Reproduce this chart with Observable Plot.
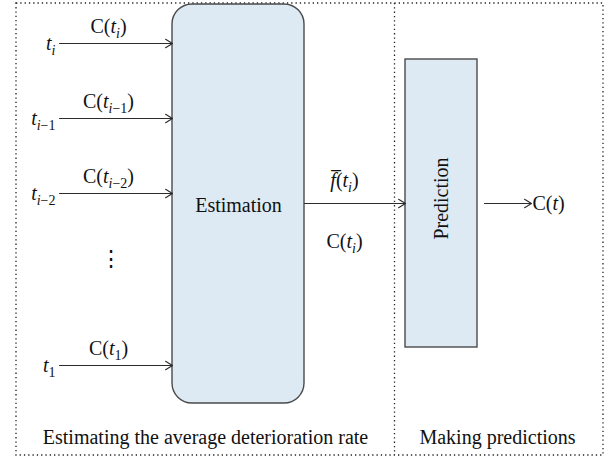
<!DOCTYPE html>
<html>
<head>
<meta charset="utf-8">
<script src="https://cdn.jsdelivr.net/npm/d3@7"></script>
<script src="https://cdn.jsdelivr.net/npm/@observablehq/plot@0.6"></script>
<style>
  html, body { margin: 0; padding: 0; background: #fff; }
  #chart svg { display: block; }
  #chart svg text { font-family: "Liberation Serif", serif; }
</style>
</head>
<body>
<div id="chart"></div>
<script>
// ---- content of the diagram ----
const inputTimes  = ["t[i]", "t[i\u22121]", "t[i\u22122]", "t[1]"];
const inputValues = ["C(t[i])", "C(t[i\u22121])", "C(t[i\u22122])", "C(t[1])"];
const estimationLabel = "Estimation";
const predictionLabel = "Prediction";
const flowLabels = ["f\u0305(t[i])", "C(t[i])"];
const outputLabel = "C(t)";
const stageLabels = ["Estimating the average deterioration rate", "Making predictions"];
const ellipsis = "\u22EE";

// ---- layout of the diagram (pixel space) ----
const W = 607, H = 460;
const frame = {x1: 16, x2: 603, y1: 3, y2: 455};
const dividerX = 394;
const estBox = {x1: 172, x2: 304, y1: 4, y2: 403};
const predBox = {x1: 405, x2: 477, y1: 59, y2: 347};
const lanes = [43, 118, 193, 365];
const inputStartX = 59, timeLabelX = 55, valueLabelX = 108;
const flowY = 203;
const outArrow = {x1: 484, x2: 531};
const stageCenters = [205, 497];
const stageY = 437;

const inputs = inputTimes.map((t, i) => ({t, c: inputValues[i], y: lanes[i]}));
const serif = "Liberation Serif";
const FS = 20;
const boxFill = "#deeaf3", boxStroke = "#4a4a4a", ink = "#2b2b2b";
const dotted = {stroke: "#222", strokeWidth: 1.3, strokeDasharray: "1.3,3"};
const txt = {fontSize: FS, fontFamily: serif, fill: "#111"};
const arr = {stroke: ink, strokeWidth: 1.1, headLength: 11, headAngle: 62};

const svg = Plot.plot({
  width: W, height: H,
  margin: 0,
  x: {domain: [0, W], range: [0, W], axis: null},
  y: {domain: [0, H], range: [0, H], axis: null},
  style: {background: "#fff"},
  marks: [
    // dotted frame + divider
    Plot.rect([frame], {x1: "x1", x2: "x2", y1: "y1", y2: "y2", fill: "none", ...dotted}),
    Plot.ruleX([dividerX], {y1: frame.y1, y2: frame.y2, ...dotted}),
    // boxes
    Plot.rect([estBox], {x1: "x1", x2: "x2", y1: "y1", y2: "y2", rx: 20, fill: boxFill, stroke: boxStroke, strokeWidth: 1.4}),
    Plot.rect([predBox], {x1: "x1", x2: "x2", y1: "y1", y2: "y2", fill: boxFill, stroke: boxStroke, strokeWidth: 1.4}),
    // input arrows
    Plot.arrow(inputs, {x1: () => inputStartX, x2: () => estBox.x1, y1: "y", y2: "y", ...arr}),
    Plot.text(inputs, {x: () => timeLabelX, y: "y", text: "t", textAnchor: "end", ...txt}),
    Plot.text(inputs, {x: () => valueLabelX, y: d => d.y - 17, text: "c", ...txt}),
    Plot.text([ellipsis], {x: () => 110, y: () => 258, text: d => d, ...txt, fontSize: 22}),
    // estimation label
    Plot.text([estimationLabel], {x: () => (estBox.x1 + estBox.x2) / 2, y: () => flowY + 2, text: d => d, ...txt}),
    // middle arrow
    Plot.arrow([flowY], {x1: () => estBox.x2, x2: () => predBox.x1, y1: d => d, y2: d => d, ...arr}),
    Plot.text(flowLabels, {x: () => 344, y: (d, i) => i === 0 ? flowY - 23 : flowY + 38, text: d => d, ...txt}),
    // prediction label
    Plot.text([predictionLabel], {x: () => (predBox.x1 + predBox.x2) / 2, y: () => flowY - 5, text: d => d, rotate: -90, ...txt}),
    // output arrow
    Plot.arrow([flowY], {x1: () => outArrow.x1, x2: () => outArrow.x2, y1: d => d, y2: d => d, ...arr}),
    Plot.text([outputLabel], {x: () => outArrow.x2 + 1, y: () => flowY, text: d => d, textAnchor: "start", ...txt}),
    // stage labels
    Plot.text(stageLabels, {x: (d, i) => stageCenters[i], y: () => stageY, text: d => d, ...txt})
  ]
});

// typeset math labels: letters italic, [..] as subscript
const mathSet = new Set([...inputTimes, ...inputValues, ...flowLabels, outputLabel]);
const SUB_SHIFT = 5, SUB_SIZE = 14;
svg.querySelectorAll("text").forEach(el => {
  const s = el.textContent;
  if (!mathSet.has(s)) return;
  const chars = [];
  let sub = false;
  for (const ch of s) {
    if (ch === "[") { sub = true; continue; }
    if (ch === "]") { sub = false; continue; }
    if (/[\u0300-\u036f]/.test(ch) && chars.length) { chars[chars.length - 1].ch += ch; continue; }
    chars.push({ch, sub, it: /[a-z]/.test(ch)});
  }
  const runs = [];
  for (const c of chars) {
    const last = runs[runs.length - 1];
    if (last && last.sub === c.sub && last.it === c.it) last.text += c.ch;
    else runs.push({text: c.ch, sub: c.sub, it: c.it});
  }
  el.textContent = "";
  let shift = 0;
  for (const r of runs) {
    const ts = document.createElementNS("http://www.w3.org/2000/svg", "tspan");
    ts.textContent = r.text;
    if (r.it) ts.setAttribute("font-style", "italic");
    if (r.sub) ts.setAttribute("font-size", SUB_SIZE);
    const want = r.sub ? SUB_SHIFT : 0;
    if (want !== shift) { ts.setAttribute("dy", want - shift); shift = want; }
    el.appendChild(ts);
  }
});

document.getElementById("chart").appendChild(svg);
</script>
</body>
</html>
